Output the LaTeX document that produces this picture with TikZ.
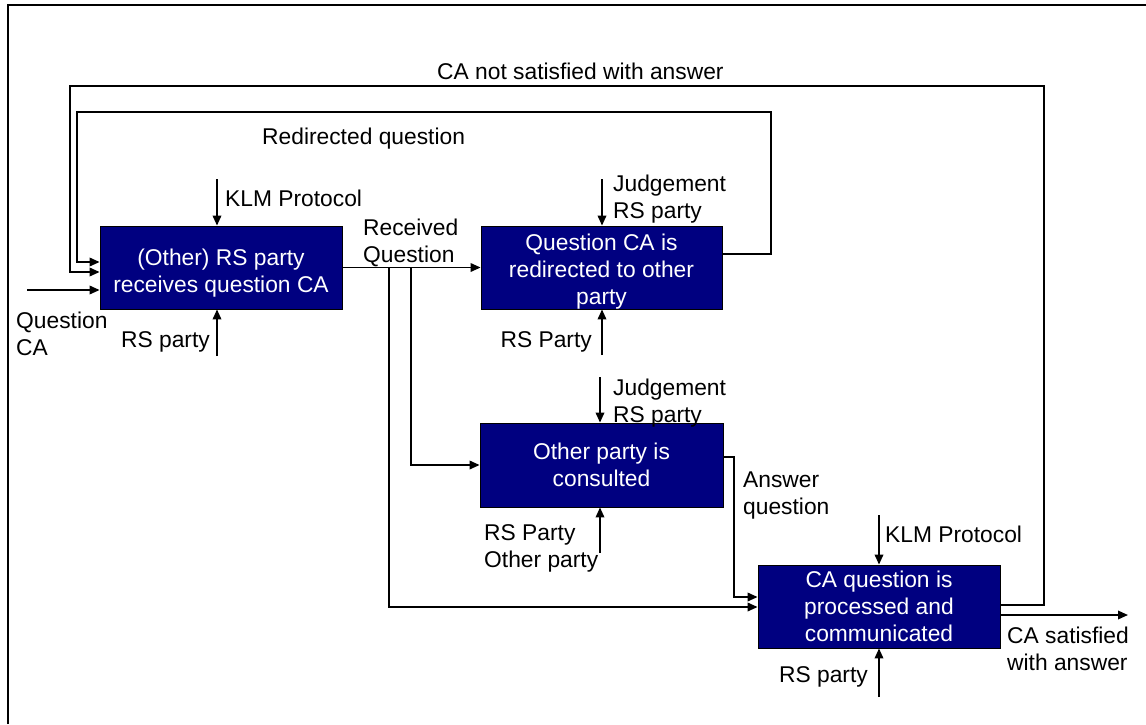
\documentclass[tikz,border=0pt]{standalone}
\usepackage{fontspec}
\setmainfont{Liberation Sans}
\usetikzlibrary{arrows.meta}
\definecolor{procblue}{RGB}{0,0,128}
\tikzset{
  x=1pt, y=-1pt,
  every node/.style={font=\fontsize{22.8}{27}\selectfont},
  proc/.style={draw=black, line width=0.8pt, fill=procblue, text=white,
    align=center, inner sep=0pt},
  lbl/.style={inner sep=0pt, align=left},
  lblr/.style={inner sep=0pt, align=right},
  flow/.style={line width=1.8pt, -{Triangle[length=10pt,width=8.5pt]}},
  frameline/.style={line width=1.8pt}
}
\begin{document}
\begin{tikzpicture}
\useasboundingbox (0,0) rectangle (1146,724);
\draw[frameline] (8,724) -- (8,5) -- (1146,5);

% activity boxes
\node[proc, minimum width=242pt, minimum height=83pt, text height=50.5pt, text depth=0pt] (b1) at (221,267.5)
  {(Other) RS party\\receives question CA};
\node[proc, minimum width=241pt, minimum height=83pt, text height=73.5pt, text depth=0pt] (b2) at (601.5,267.5)
  {Question CA is\\redirected to other\\party};
\node[proc, minimum width=243pt, minimum height=84pt] (b3) at (601.5,465)
  {Other party is\\consulted};
\node[proc, minimum width=242pt, minimum height=83pt] (b4) at (879,606.5)
  {CA question is\\processed and\\communicated};

% free ends and junctions
\coordinate (qin) at (27,290);
\coordinate (j1) at (389,268);
\coordinate (j2) at (411,268);
\coordinate (out) at (1128,615);
\coordinate (c1t) at (217,179);
\coordinate (c1b) at (217,356);
\coordinate (c2t) at (602,179);
\coordinate (c2b) at (602,355);
\coordinate (c3t) at (600,377);
\coordinate (c3b) at (600,553);
\coordinate (c4t) at (879,515);
\coordinate (c4b) at (879,697);

% main flow
\draw[flow] (qin) -- (qin -| b1.west);
\draw[flow] (b1) -- (b2);
\draw[flow] (j2) |- (b3.west);
\draw[flow] (j1) |- (b4.west |- 0,607);
\draw[flow] (b3.east |- 0,457) -- (734,457) |- (b4.west |- 0,597);
\draw[flow] (b4.east |- 0,615) -- (out);

% feedback loops
\draw[flow] (b2.east |- 0,254) -| (771,112) -| (77,262) -- (b1.west |- 0,262);
\draw[flow] (b4.east |- 0,605) -| (1044,86) -| (70,272) -- (b1.west |- 0,272);

% controls and mechanisms
\draw[flow] (c1t) -- (c1t |- b1.north);
\draw[flow] (c1b) -- (c1b |- b1.south);
\draw[flow] (c2t) -- (c2t |- b2.north);
\draw[flow] (c2b) -- (c2b |- b2.south);
\draw[flow] (c3t) -- (c3t |- b3.north);
\draw[flow] (c3b) -- (c3b |- b3.south);
\draw[flow] (c4t) -- (c4t |- b4.north);
\draw[flow] (c4b) -- (c4b |- b4.south);

% labels (base anchor sits on the last line)
\node[lbl, anchor=base west] (lnot) at (437,79) {CA not satisfied with answer};
\node[lbl, anchor=base west] (lred) at (262,144) {Redirected question};
\node[lbl, anchor=base west] (lk1) at (225,206) {KLM Protocol};
\node[lblr, anchor=base east] (lr1) at (210,347) {RS party};
\node[lbl, anchor=base west] (lq) at (16,355) {Question\\CA};
\node[lbl, anchor=base west] (lrec) at (363,262) {Received\\Question};
\node[lbl, anchor=base west] (lj2) at (613,218) {Judgement\\RS party};
\node[lblr, anchor=base east] (lr2) at (592,347) {RS Party};
\node[lbl, anchor=base west] (lj3) at (613,422) {Judgement\\RS party};
\node[lbl, anchor=base west] (lr3) at (484,567) {RS Party\\Other party};
\node[lbl, anchor=base west] (lans) at (743,514) {Answer\\question};
\node[lbl, anchor=base west] (lk4) at (885,542) {KLM Protocol};
\node[lblr, anchor=base east] (lr4) at (868,682) {RS party};
\node[lbl, anchor=base west] (lsat) at (1007,670) {CA satisfied\\with answer};
\end{tikzpicture}
\end{document}
